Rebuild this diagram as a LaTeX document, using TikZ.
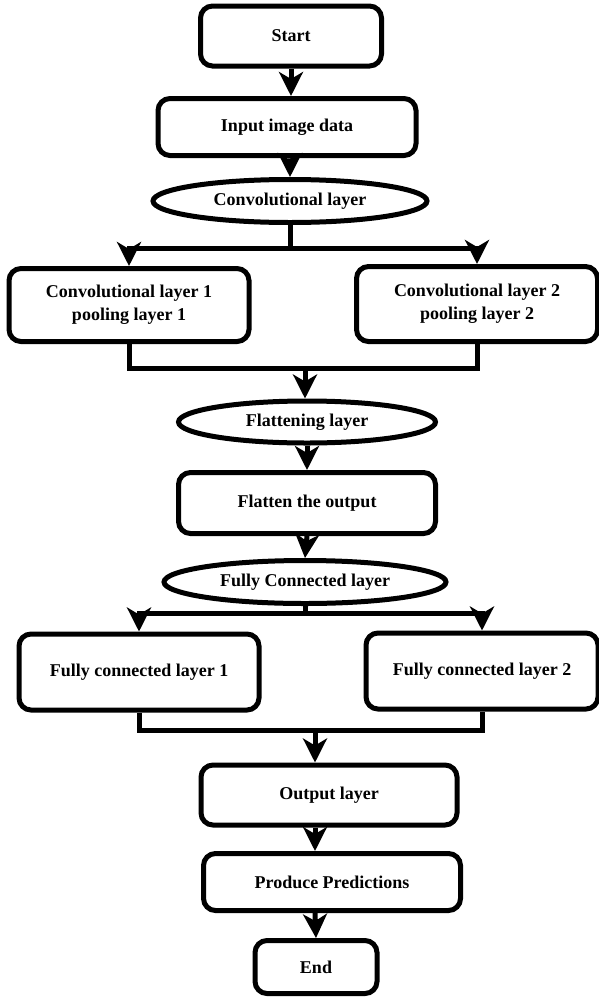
\documentclass[tikz,border=0pt]{standalone}
\usepackage{fontspec}
\setmainfont{Liberation Serif}
\usetikzlibrary{arrows.meta, shapes.geometric}

\begin{document}
\begin{tikzpicture}[
  x=1pt, y=-1pt,
  box/.style={draw, line width=5pt, rounded corners=12pt, align=center, inner sep=0pt,
    font=\fontsize{18}{23}\selectfont\bfseries},
  oval/.style={draw, ellipse, line width=5pt, inner sep=0pt,
    font=\fontsize{18}{23}\selectfont\bfseries},
  line/.style={line width=5pt},
  arr/.style={line width=5pt, -{Stealth[length=24pt, width=24pt, inset=7pt]}}
]
\useasboundingbox (0,0) rectangle (599,999);

\node[box, minimum width=181pt, minimum height=60pt] (start) at (291,36) {Start};
\node[box, minimum width=258pt, minimum height=57pt] (input) at (287,127) {Input image data};
\node[oval, minimum width=274pt, minimum height=43pt] (conv) at (290,201) {Convolutional layer};
\node[box, minimum width=240pt, minimum height=73pt] (conv1) at (129,305) {Convolutional layer 1\\pooling layer 1};
\node[box, minimum width=241pt, minimum height=75pt] (conv2) at (477,304) {Convolutional layer 2\\pooling layer 2};
\node[oval, minimum width=257pt, minimum height=42pt] (flat) at (307,422) {Flattening layer};
\node[box, minimum width=257pt, minimum height=61pt] (flatout) at (307,503) {Flatten the output};
\node[oval, minimum width=282pt, minimum height=43pt] (fc) at (305,582) {Fully Connected layer};
\node[box, minimum width=240pt, minimum height=76pt] (fc1) at (139,672) {Fully connected layer 1};
\node[box, minimum width=232pt, minimum height=76pt] (fc2) at (482,671) {Fully connected layer 2};
\node[box, minimum width=256pt, minimum height=60pt] (outl) at (329,795) {Output layer};
\node[box, minimum width=257pt, minimum height=57pt] (pred) at (332,882) {Produce Predictions};
\node[box, minimum width=122pt, minimum height=53pt] (end) at (316,967) {End};

\coordinate (split1) at (290,248);
\coordinate (join1)  at (305,368);
\coordinate (split2) at (305,613);
\coordinate (join2)  at (315,730);

\draw[arr] (start) -- (start |- input.north);
\draw[arr] (input) -- (input.south -| conv) -- (conv.north);
\draw[line] (conv.south) -- (split1);
\draw[arr] (split1) -| (conv1.north);
\draw[arr] (split1) -| (conv2.north);
\draw[line] (conv1.south) |- (join1) -| (conv2.south);
\draw[arr] (join1) -- (join1 |- flat.north);
\draw[arr] (flat.south) -- (flatout.north);
\draw[arr] (flatout.south) -- (fc.north);
\draw[line] (fc.south) -- (split2);
\draw[arr] (split2) -| (fc1.north);
\draw[arr] (split2) -| (fc2.north);
\draw[line] (fc1.south) |- (join2) -| (fc2.south);
\draw[arr] (join2) -- (join2 |- outl.north);
\draw[arr] (join2 |- outl.south) -- (join2 |- pred.north);
\draw[arr] (join2 |- pred.south) -- (end.north);
\end{tikzpicture}
\end{document}
